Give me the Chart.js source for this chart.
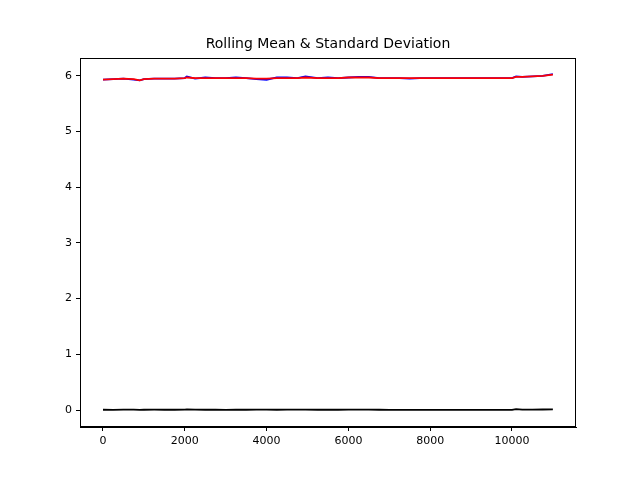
<!DOCTYPE html>
<html><head><script src="https://cdn.jsdelivr.net/npm/chart.js"></script>
<style>body{margin:0;background:#fff}#c{width:640px;height:480px}</style></head>
<body><div id="c"><canvas id="cv" width="640" height="480"></canvas></div>
<script>
const xs=[0,250,500,750,900,1000,1250,1500,1750,2000,2050,2250,2500,2750,3000,3250,3500,3750,4000,4250,4500,4750,4950,5250,5500,5750,6000,6250,6500,6750,7000,7250,7500,7750,8000,8250,8500,8750,9000,9250,9500,9750,10000,10100,10250,10500,10750,11000];
const original=[5.93,5.94,5.95,5.93,5.92,5.94,5.95,5.95,5.95,5.96,5.99,5.95,5.97,5.96,5.96,5.97,5.96,5.94,5.93,5.97,5.97,5.96,5.99,5.96,5.97,5.96,5.97,5.98,5.98,5.96,5.96,5.96,5.95,5.96,5.96,5.96,5.96,5.96,5.96,5.96,5.96,5.96,5.96,5.99,5.98,5.99,6.00,6.03];
const rollingMean=[5.93,5.94,5.95,5.94,5.92,5.94,5.95,5.95,5.95,5.96,5.97,5.96,5.96,5.96,5.96,5.96,5.96,5.95,5.95,5.96,5.96,5.96,5.97,5.96,5.96,5.96,5.97,5.97,5.97,5.96,5.96,5.96,5.96,5.96,5.96,5.96,5.96,5.96,5.96,5.96,5.96,5.96,5.96,5.98,5.98,5.99,6.00,6.02];
const rollingStd=[0.005,0.004,0.006,0.008,0.004,0.005,0.006,0.005,0.005,0.008,0.010,0.006,0.005,0.005,0.004,0.005,0.005,0.008,0.006,0.005,0.006,0.006,0.008,0.005,0.005,0.005,0.006,0.006,0.006,0.005,0.004,0.004,0.003,0.003,0.003,0.003,0.003,0.003,0.003,0.003,0.003,0.003,0.004,0.015,0.006,0.008,0.009,0.012];
const mk=(a,c,l,o)=>({label:l,order:o,data:xs.map((x,i)=>({x,y:a[i]})),borderColor:c,borderWidth:1.8,pointRadius:0,tension:0});
const tk={color:'#000',font:{family:'DejaVu Sans',size:11},maxRotation:0,padding:4,callback:v=>v};
const gr={drawOnChartArea:false,drawTicks:true,tickLength:4,color:'#000'};
new Chart(document.getElementById('cv'),{type:'line',data:{datasets:[mk(rollingMean,'red','Rolling Mean',0),mk(original,'blue','Original',1),mk(rollingStd,'black','Rolling Std',2)]},
options:{responsive:false,animation:false,devicePixelRatio:1,
layout:{padding:{left:0,right:64,top:58,bottom:0}},
plugins:{legend:{display:false},title:{display:false}},
scales:{x:{type:'linear',min:-562,max:11565,afterFit:a=>{a.height=53},afterBuildTicks:a=>{a.ticks=[0,2000,4000,6000,8000,10000].map(v=>({value:v}))},grid:gr,border:{color:'#000'},ticks:tk},
y:{min:-0.305,max:6.32,afterFit:a=>{a.width=80},afterBuildTicks:a=>{a.ticks=[0,1,2,3,4,5,6].map(v=>({value:v}))},grid:gr,border:{color:'#000'},ticks:tk}}},
plugins:[{id:'box',afterDraw(c){const a=c.chartArea,x=c.ctx;x.save();x.strokeStyle='#000';x.lineWidth=1;x.strokeRect(a.left+.5,a.top+.5,a.width-1,a.height-1);x.fillStyle='#000';x.font='14px "DejaVu Sans"';x.textAlign='center';x.textBaseline='middle';x.fillText('Rolling Mean & Standard Deviation',(a.left+a.right)/2,44);x.restore();}}]});
</script></body></html>
